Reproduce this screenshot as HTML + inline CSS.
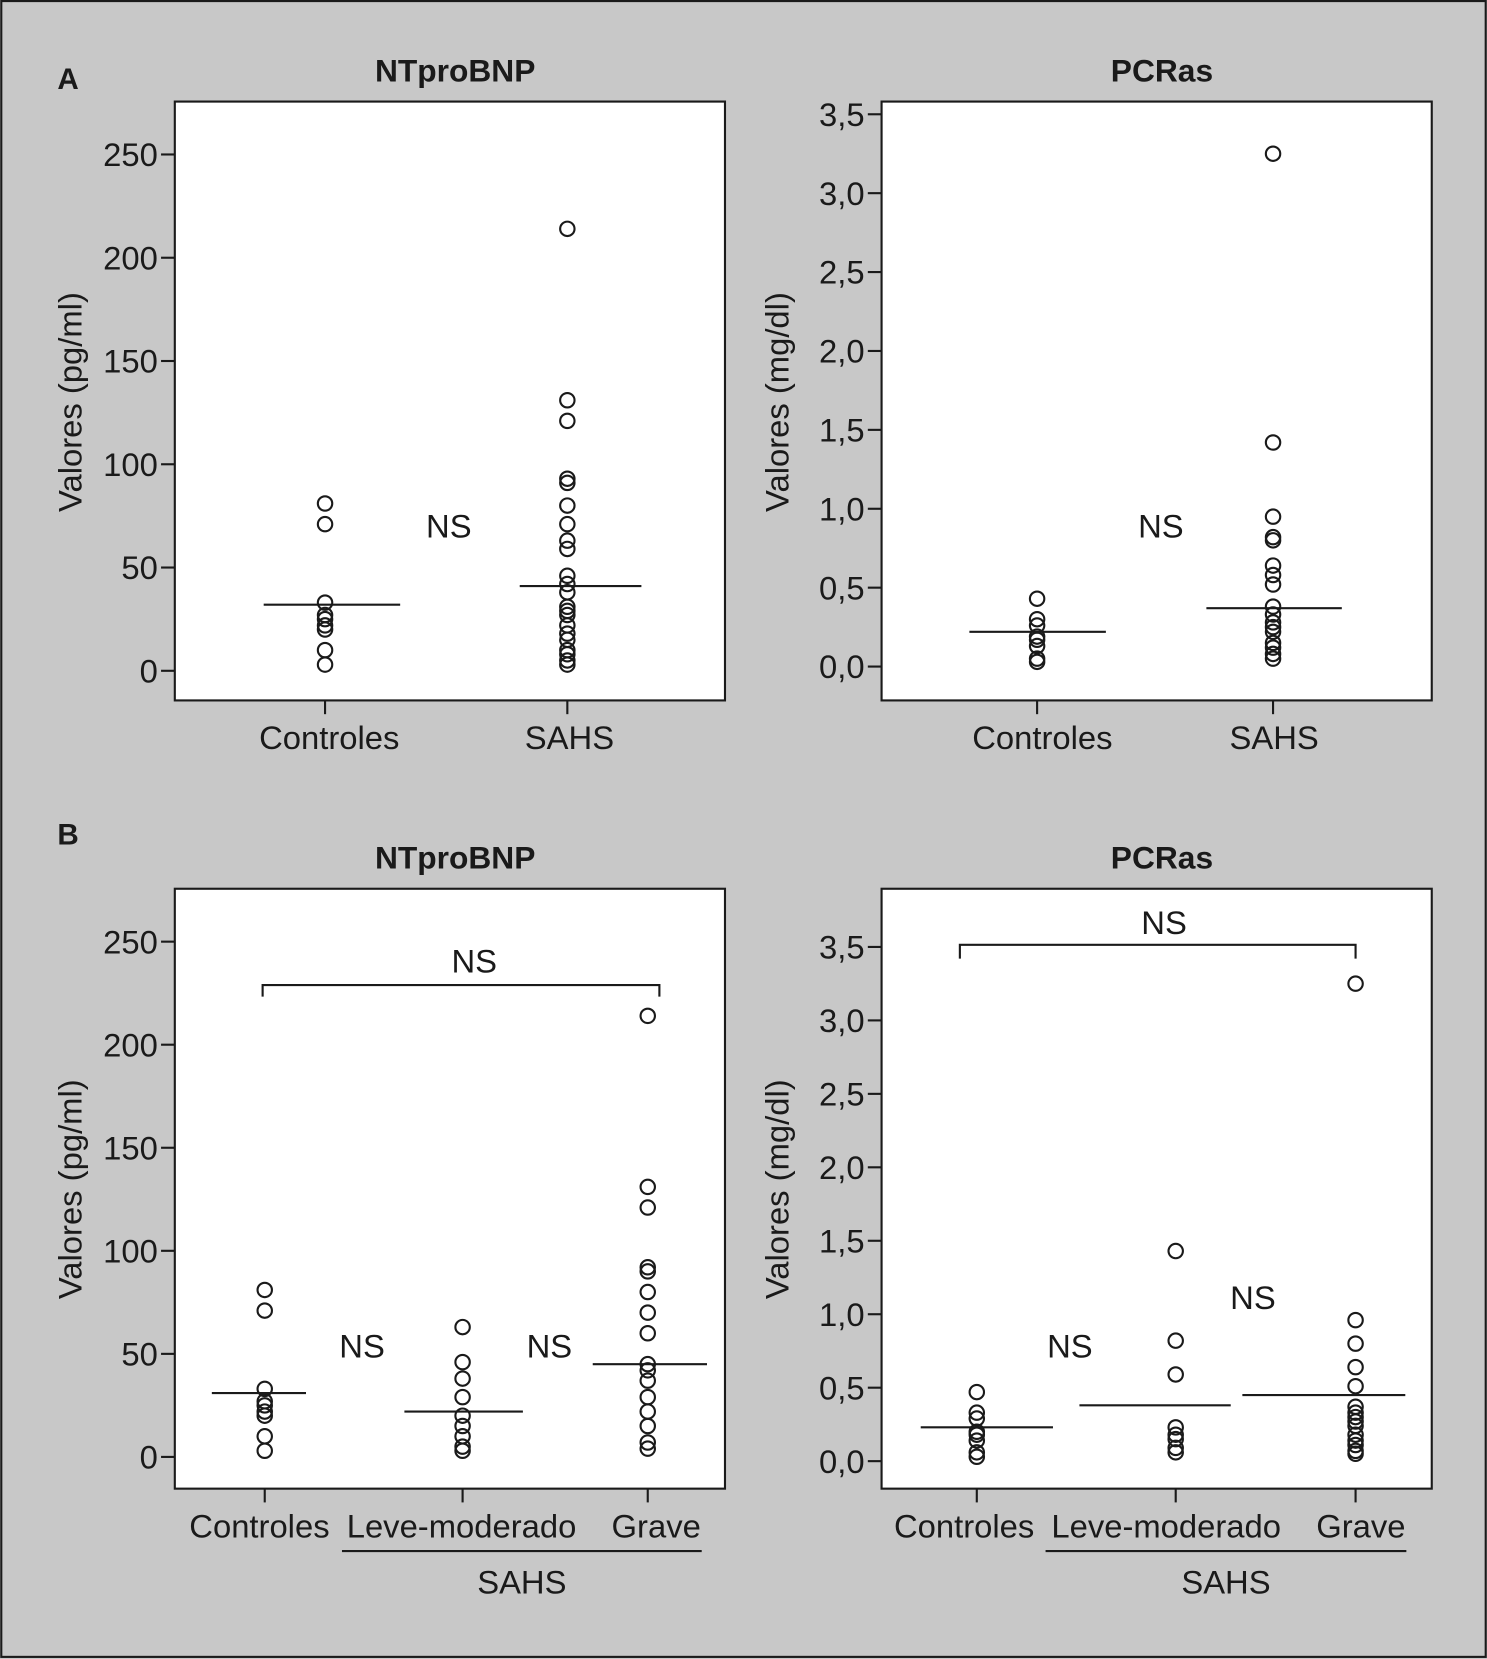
<!DOCTYPE html>
<html><head><meta charset="utf-8"><style>
html,body{margin:0;padding:0;background:#c8c8c8;}
svg{display:block;}
text{font-family:"Liberation Sans",sans-serif;fill:#1a1a1a;}
</style></head><body>
<svg id="fig" width="1487" height="1659" viewBox="0 0 1405 1568" xmlns="http://www.w3.org/2000/svg">
<rect x="1" y="1" width="1403" height="1565" fill="#c8c8c8" stroke="#1a1a1a" stroke-width="2"/>
</svg>
<script>
// ---- data ----
const ntTicks = [0, 50, 100, 150, 200, 250];
const ntTickLabels = ["0", "50", "100", "150", "200", "250"];
const pcTicks = [0, 0.5, 1, 1.5, 2, 2.5, 3, 3.5];
const pcTickLabels = ["0,0", "0,5", "1,0", "1,5", "2,0", "2,5", "3,0", "3,5"];

const catsA = ["Controles", "SAHS"];
const catsB = ["Controles", "Leve-moderado", "Grave"];

const aNtControles = [81, 71, 33, 27, 25, 22, 20, 10, 3];
const aNtSahs = [214, 131, 121, 93, 91, 80, 71, 63, 59, 46, 42, 38, 31, 29, 27, 22, 18, 15, 10, 8, 5, 3];
const aNtMedians = [32, 41];

const aPcControles = [0.43, 0.30, 0.26, 0.19, 0.17, 0.13, 0.05, 0.03];
const aPcSahs = [3.25, 1.42, 0.95, 0.82, 0.80, 0.64, 0.58, 0.52, 0.38, 0.33, 0.28, 0.25, 0.22, 0.15, 0.12, 0.08, 0.05];
const aPcMedians = [0.22, 0.37];

const bNtControles = [81, 71, 33, 27, 25, 22, 20, 10, 3];
const bNtLeve = [63, 46, 38, 29, 20, 15, 10, 5, 3];
const bNtGrave = [214, 131, 121, 92, 90, 80, 70, 60, 45, 42, 37, 29, 22, 15, 7, 4];
const bNtMedians = [31, 22, 45];

const bPcControles = [0.47, 0.33, 0.29, 0.20, 0.18, 0.14, 0.06, 0.03];
const bPcLeve = [1.43, 0.82, 0.59, 0.23, 0.18, 0.15, 0.09, 0.06];
const bPcGrave = [3.25, 0.96, 0.80, 0.64, 0.51, 0.37, 0.33, 0.30, 0.27, 0.24, 0.18, 0.14, 0.11, 0.07, 0.05];
const bPcMedians = [0.23, 0.38, 0.45];

// ---- drawing ----
const svg = document.getElementById('fig');
const NS = 'http://www.w3.org/2000/svg';
const FS = 31;
function mk(tag, attrs, parent) {
  const e = document.createElementNS(NS, tag);
  for (const k in attrs) e.setAttribute(k, attrs[k]);
  (parent || svg).appendChild(e);
  return e;
}
function txt(x, y, s, size, opts, parent) {
  const t = mk('text', Object.assign({x: x, y: y, 'font-size': size}, opts || {}), parent);
  t.textContent = s;
  return t;
}

function panel(cfg) {
  const g = mk('g', {});
  
  
  const y = v => cfg.y0 + (v - cfg.v0) * (cfg.y1 - cfg.y0) / (cfg.v1 - cfg.v0);
  const box = mk('rect', {x: cfg.left, y: cfg.top, width: cfg.right - cfg.left, height: cfg.bottom - cfg.top, fill: '#fff', stroke: '#1a1a1a', 'stroke-width': 2}, g);
  
  
  cfg.ticks.forEach((tv, i) => {
    const ty = y(tv);
    const l = mk('line', {x1: cfg.left - 13, x2: cfg.left, y1: ty, y2: ty, stroke: '#1a1a1a', 'stroke-width': 2}, g);
    
    
    const t = txt(cfg.left - 16, ty + 11, cfg.tickLabels[i], FS, {'text-anchor': 'end'}, g);
    
    
  });
  const yl = txt(0, 0, cfg.ylabel, FS, {'text-anchor': 'middle', transform: 'translate(' + cfg.ylx + ',' + cfg.ylabelY + ') rotate(-90)'}, g);
  
  
  const ti = txt((cfg.left + cfg.right) / 2 + 5, cfg.top - 19, cfg.title, 30, {'text-anchor': 'middle', 'font-weight': 'bold'}, g);
  
  
  cfg.cats.forEach((c, i) => {
    const cx = cfg.cx[i];
    const tk = mk('line', {x1: cx, x2: cx, y1: cfg.bottom, y2: cfg.bottom + 13, stroke: '#1a1a1a', 'stroke-width': 2}, g);
    
    
    const lt = txt(cfg.labelX[i], cfg.bottom + 46, c, FS, {'text-anchor': 'middle'}, g);
    
    
    cfg.series[i].forEach(v => {
      const p = mk('circle', {cx: cx, cy: y(v), r: 6.8, fill: 'none', stroke: '#1a1a1a', 'stroke-width': 2}, g);
      
      
    });
    const m = cfg.medianSpan[i];
    const ml = mk('line', {x1: m[0], x2: m[1], y1: y(cfg.medians[i]), y2: y(cfg.medians[i]), stroke: '#1a1a1a', 'stroke-width': 2}, g);
    
    
  });
  (cfg.ns || []).forEach(n => {
    const t = txt(n[0], n[1], 'NS', FS, {'text-anchor': 'middle'}, g);
    
    
  });
  if (cfg.bracket) {
    const b = cfg.bracket;
    const bp = mk('path', {d: 'M' + b[0] + ',' + b[3] + ' V' + b[2] + ' H' + b[1] + ' V' + b[3], fill: 'none', stroke: '#1a1a1a', 'stroke-width': 2}, g);
    
    
  }
  if (cfg.group) {
    const gr = cfg.group;
    const gl = mk('line', {x1: gr[0], x2: gr[1], y1: 1466, y2: 1466, stroke: '#1a1a1a', 'stroke-width': 2}, g);
    
    
    const gt = txt((gr[0] + gr[1]) / 2, 1506, 'SAHS', FS, {'text-anchor': 'middle'}, g);
    
    
  }
}

const la = txt(54, 84, 'A', 28, {'font-weight': 'bold'});


const lb = txt(54, 798, 'B', 28, {'font-weight': 'bold'});



panel({name: 'panel-a-ntprobnp', left: 165, right: 685, top: 96, bottom: 662, v0: 0, v1: 250, y0: 634, y1: 146,
  ticks: ntTicks, tickLabels: ntTickLabels, ylabel: 'Valores (pg/ml)', ylx: 77, ylabelY: 380, title: 'NTproBNP',
  cats: catsA, cx: [307, 536], labelX: [311, 538], series: [aNtControles, aNtSahs], medians: aNtMedians,
  medianSpan: [[249, 378], [491, 606]], ns: [[424, 508]]});
panel({name: 'panel-a-pcras', left: 833, right: 1353, top: 96, bottom: 662, v0: 0, v1: 3.5, y0: 630, y1: 108,
  ticks: pcTicks, tickLabels: pcTickLabels, ylabel: 'Valores (mg/dl)', ylx: 745, ylabelY: 380, title: 'PCRas',
  cats: catsA, cx: [980, 1203], labelX: [985, 1204], series: [aPcControles, aPcSahs], medians: aPcMedians,
  medianSpan: [[916, 1045], [1140, 1268]], ns: [[1097, 508]]});
panel({name: 'panel-b-ntprobnp', left: 165, right: 685, top: 840, bottom: 1407, v0: 0, v1: 250, y0: 1377, y1: 890,
  ticks: ntTicks, tickLabels: ntTickLabels, ylabel: 'Valores (pg/ml)', ylx: 77, ylabelY: 1124, title: 'NTproBNP',
  cats: catsB, cx: [250, 437, 612], labelX: [245, 436, 620], series: [bNtControles, bNtLeve, bNtGrave], medians: bNtMedians,
  medianSpan: [[200, 289], [382, 494], [560, 668]], ns: [[342, 1283], [519, 1283], [448, 919]],
  bracket: [248, 623, 931, 942], group: [323, 663]});
panel({name: 'panel-b-pcras', left: 833, right: 1353, top: 840, bottom: 1407, v0: 0, v1: 3.5, y0: 1381, y1: 895,
  ticks: pcTicks, tickLabels: pcTickLabels, ylabel: 'Valores (mg/dl)', ylx: 745, ylabelY: 1124, title: 'PCRas',
  cats: catsB, cx: [923, 1111, 1281], labelX: [911, 1102, 1286], series: [bPcControles, bPcLeve, bPcGrave], medians: bPcMedians,
  medianSpan: [[870, 995], [1020, 1163], [1174, 1328]], ns: [[1011, 1283], [1184, 1237], [1100, 883]],
  bracket: [907, 1281, 893, 906], group: [988, 1329]});
</script>
</body></html>
